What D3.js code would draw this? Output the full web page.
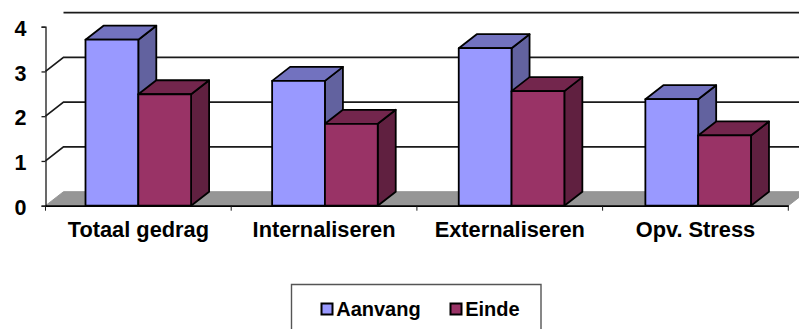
<!DOCTYPE html>
<html>
<head>
<meta charset="utf-8">
<script src="https://cdn.jsdelivr.net/npm/d3@7"></script>
<style>
html,body{margin:0;padding:0;background:#fff;overflow:hidden}
svg{display:block}
text{font-family:"Liberation Sans",Arial,sans-serif;font-weight:bold;fill:#000}
</style>
</head>
<body>
<script>
const categories = ["Totaal gedrag", "Internaliseren", "Externaliseren", "Opv. Stress"];
const seriesNames = ["Aanvang", "Einde"];
const aanvang = [3.71, 2.79, 3.52, 2.38];
const einde = [2.49, 1.83, 2.56, 1.57];
const yTicks = [0, 1, 2, 3, 4];

const seriesValues = [aanvang, einde];
const faces = [
  {front: "#9999ff", top: "#7272bf", side: "#62629f"},
  {front: "#993366", top: "#73264d", side: "#602040"}
];

const W = 799, H = 329;
const depthX = 18, depthY = -14;
const ink = "#1a1a1a";

const svg = d3.select("body").append("svg").attr("width", W).attr("height", H);

// Axis bands carry ticks and labels; the bars run on a slightly wider step
const x = d3.scaleBand().domain(categories).range([45.5, 788.3]);
const xBars = d3.scaleBand().domain(categories).range([45.5, 792]);
const inner = d3.scaleBand().domain(d3.range(seriesNames.length)).range([40, 145.6]);
const y = d3.scaleLinear().domain([0, 4]).range([205.7, 26.7]);

// Floor of the 3D box
const [xL, xR] = x.range();
svg.append("path")
  .attr("fill", "#969696")
  .attr("stroke", "#969696")
  .attr("d", d3.line()([[xL, y(0)], [xL + depthX, y(0) + depthY], [xR + depthX, y(0) + depthY], [xR, y(0)]]) + "Z");

// Gridlines on the back and left walls
const grid = svg.append("g").attr("fill", "none").attr("stroke", ink).attr("stroke-width", 1.7);
grid.selectAll("path.wall").data(yTicks.filter(d => d > 0)).join("path")
  .attr("class", "wall")
  .attr("d", d => d3.line()([
    ...(d < 4 ? [[xL, y(d)]] : []),
    [xL + depthX, y(d) + depthY],
    [xR + depthX, y(d) + depthY]
  ]));

// Bars: side and top faces recede behind the front face
const bars = svg.append("g").attr("stroke", "#000").attr("stroke-width", 1.8).attr("stroke-linejoin", "round");
categories.forEach((cat, ci) => {
  seriesValues.forEach((vals, si) => {
    const x0 = xBars(cat) + inner(si), x1 = x0 + inner.bandwidth();
    const yT = y(vals[ci]), yB = y(0);
    const poly = pts => d3.line()(pts) + "Z";
    bars.append("path").attr("fill", faces[si].side)
      .attr("d", poly([[x1, yT], [x1 + depthX, yT + depthY], [x1 + depthX, yB + depthY], [x1, yB]]));
    bars.append("path").attr("fill", faces[si].top)
      .attr("d", poly([[x0, yT], [x0 + depthX, yT + depthY], [x1 + depthX, yT + depthY], [x1, yT]]));
    bars.append("rect").attr("fill", faces[si].front)
      .attr("x", x0).attr("y", yT).attr("width", x1 - x0).attr("height", yB - yT);
  });
});

// Value axis
const yAxis = svg.append("g").attr("transform", `translate(${xL},0)`)
  .call(d3.axisLeft(y).tickValues(yTicks).tickFormat(d3.format("d")).tickSize(4).tickPadding(15));
yAxis.selectAll("path,line").attr("stroke", ink).attr("stroke-width", 1.3);
yAxis.selectAll("text").attr("font-size", 21.5).attr("dy", "0.40em");

// Category axis: ticks sit on band edges, labels at band centres
const xAxis = svg.append("g").attr("transform", `translate(0,${y(0)})`)
  .call(d3.axisBottom(x).tickSize(0).tickPadding(16).tickSizeOuter(0));
xAxis.select("path").attr("stroke", "#000").attr("stroke-width", 1.8);
xAxis.selectAll("text").attr("font-size", 21.8);
svg.append("g").selectAll("line")
  .data([...categories.map(c => x(c)), xR]).join("line")
  .attr("x1", d => d).attr("x2", d => d)
  .attr("y1", y(0)).attr("y2", y(0) + 5)
  .attr("stroke", ink).attr("stroke-width", 1);

// Legend box, open at the lower edge
svg.append("path").attr("fill", "none").attr("stroke", "#555").attr("stroke-width", 1.4)
  .attr("d", d3.line()([[291.5, H], [291.5, 284.5], [541, 284.5], [541, H]]));
const legendX = [321, 450];
const legend = svg.append("g").selectAll("g").data(seriesNames).join("g")
  .attr("transform", (d, i) => `translate(${legendX[i]},309)`);
legend.append("rect").attr("x", 0.5).attr("y", -5.5).attr("width", 11).attr("height", 11)
  .attr("fill", (d, i) => faces[i].front).attr("stroke", "#000").attr("stroke-width", 2);
legend.append("text").attr("x", 15.2).attr("dy", "0.36em").attr("font-size", 20).text(d => d);
</script>
</body>
</html>
